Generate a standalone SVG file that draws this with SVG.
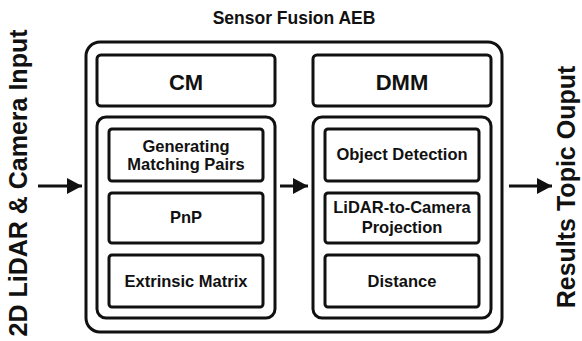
<svg xmlns="http://www.w3.org/2000/svg" width="582" height="341" viewBox="0 0 582 341">
<style>
.box{fill:#fff;stroke:#111;stroke-width:3}
.t{font-family:"Liberation Sans",Arial,sans-serif;font-weight:bold;fill:#111;text-anchor:middle}
.s{font-size:16.5px}
.h{font-size:22px}
.side{font-size:25px}
.conn{stroke:#111;stroke-width:3;fill:none}
</style>
<defs>
<marker id="ah" markerUnits="userSpaceOnUse" markerWidth="16" markerHeight="18" refX="15" refY="9" orient="auto">
<path d="M0,1 L15,9 L0,17 z" fill="#111"/>
</marker>
</defs>
<rect width="582" height="341" fill="#fff"/>
<text class="t" x="294" y="24" style="font-size:17.5px">Sensor Fusion AEB</text>
<text class="t side" transform="translate(27,183) rotate(-90)">2D LiDAR &amp; Camera Input</text>
<text class="t side" transform="translate(575,187) rotate(-90)">Results Topic Ouput</text>
<g id="aeb"><rect class="box" x="86" y="42" width="416" height="290" rx="14"/></g>
<g id="cm"><rect class="box" x="97" y="55" width="178" height="51" rx="4"/><text class="t h" x="186" y="90">CM</text></g>
<g id="dmm"><rect class="box" x="313" y="55" width="178" height="51" rx="4"/><text class="t h" x="402" y="90">DMM</text></g>
<g id="cm-group"><rect class="box" x="97" y="117" width="178" height="201" rx="9"/></g>
<g id="dmm-group"><rect class="box" x="313" y="117" width="178" height="201" rx="9"/></g>
<g id="gen"><rect class="box" x="109" y="129" width="154" height="52" rx="3"/><text class="t s" x="186" y="152">Generating</text><text class="t s" x="186" y="170">Matching Pairs</text></g>
<g id="pnp"><rect class="box" x="109" y="193" width="154" height="50" rx="3"/><text class="t s" x="186" y="223">PnP</text></g>
<g id="ext"><rect class="box" x="109" y="255" width="154" height="52" rx="3"/><text class="t s" x="186" y="287">Extrinsic Matrix</text></g>
<g id="obj"><rect class="box" x="325" y="129" width="154" height="52" rx="3"/><text class="t s" x="402" y="160">Object Detection</text></g>
<g id="proj"><rect class="box" x="325" y="193" width="154" height="50" rx="3"/><text class="t s" x="402" y="213">LiDAR-to-Camera</text><text class="t s" x="402" y="233">Projection</text></g>
<g id="dist"><rect class="box" x="325" y="255" width="154" height="52" rx="3"/><text class="t s" x="402" y="287">Distance</text></g>
<g id="connectors">
<line class="conn" x1="38" y1="186" x2="82" y2="186" marker-end="url(#ah)"/>
<line class="conn" x1="280" y1="186" x2="308" y2="186" marker-end="url(#ah)"/>
<line class="conn" x1="509" y1="186" x2="552" y2="186" marker-end="url(#ah)"/>
</g>
</svg>
